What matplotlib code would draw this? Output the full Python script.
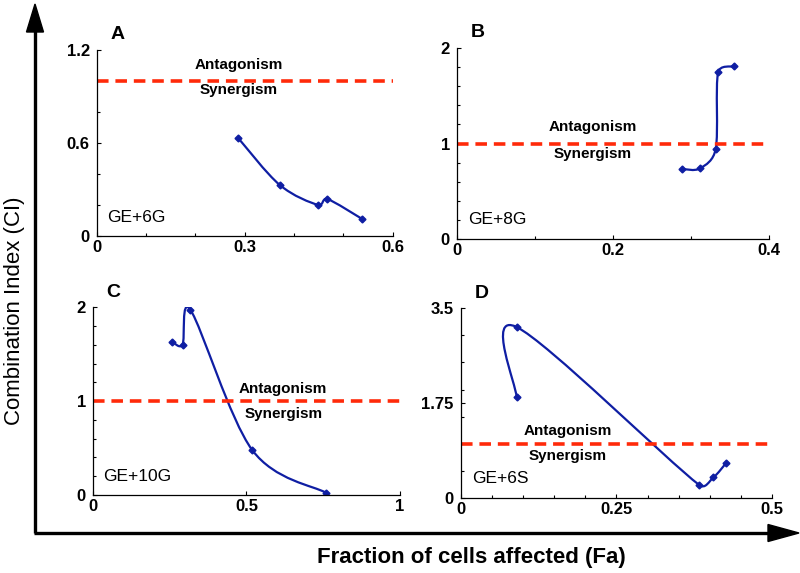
import numpy as np
import matplotlib
matplotlib.use("Agg")
import matplotlib.pyplot as plt
from matplotlib.path import Path
from matplotlib.patches import PathPatch, Polygon
from matplotlib.ticker import MultipleLocator

plt.rcParams['font.family'] = ['Liberation Sans', 'DejaVu Sans']

# --- data ---
names = ["A", "B", "C", "D"]
combos = ["GE+6G", "GE+8G", "GE+10G", "GE+6S"]

fa_A = [0.286, 0.371, 0.449, 0.467, 0.538]
ci_A = [0.634, 0.329, 0.200, 0.239, 0.110]

fa_B = [0.289, 0.312, 0.332, 0.335, 0.355]
ci_B = [0.733, 0.740, 0.946, 1.745, 1.810]

fa_C = [0.258, 0.292, 0.318, 0.519, 0.759]
ci_C = [1.63, 1.60, 1.97, 0.479, 0.025]

fa_D = [0.0895, 0.0895, 0.383, 0.406, 0.426]
ci_D = [1.866, 3.155, 0.240, 0.380, 0.640]

xmax = [0.6, 0.4, 1.0, 0.5]
ymax = [1.2, 2.0, 2.0, 3.5]
xticks = [[0, 0.3, 0.6], [0, 0.2, 0.4], [0, 0.5, 1], [0, 0.25, 0.5]]
xticklabels = [["0", "0.3", "0.6"], ["0", "0.2", "0.4"], ["0", "0.5", "1"], ["0", "0.25", "0.5"]]
yticks = [[0, 0.6, 1.2], [0, 1, 2], [0, 1, 2], [0, 1.75, 3.5]]
yticklabels = [["0", "0.6", "1.2"], ["0", "1", "2"], ["0", "1", "2"], ["0", "1.75", "3.5"]]
xminor = [0.1, 0.1, None, 0.05]
yminor = [0.2, 0.2, 0.2, 0.5]
# where the Antagonism / Synergism words sit (data units)
word_x = [0.287, 0.174, 0.62, 0.172]
ant_y = [1.10, 1.17, 1.13, 1.23]
syn_y = [0.94, 0.89, 0.86, 0.78]

series = [(fa_A, ci_A), (fa_B, ci_B), (fa_C, ci_C), (fa_D, ci_D)]

BLUE = '#0f1ea3'
RED = '#ff2a0a'


def smooth_line(ax, xs, ys):
    # Excel-style smoothed line: Catmull-Rom handles (neighbour span / 6),
    # capped at half the segment so short segments don't overshoot
    pts = ax.transData.transform(np.column_stack([xs, ys]))
    n = len(pts)
    tang = [(pts[min(i + 1, n - 1)] - pts[max(i - 1, 0)]) / 6.0 for i in range(n)]

    def cap(v, L):
        m = np.hypot(*v)
        return v if m <= 0.5 * L else v * (0.5 * L / m)

    verts = [pts[0]]
    codes = [Path.MOVETO]
    for i in range(n - 1):
        L = np.hypot(*(pts[i + 1] - pts[i]))
        verts += [pts[i] + cap(tang[i], L), pts[i + 1] - cap(tang[i + 1], L), pts[i + 1]]
        codes += [Path.CURVE4] * 3
    verts = ax.transData.inverted().transform(np.array(verts))
    ax.add_patch(PathPatch(Path(verts, codes), fill=False, edgecolor=BLUE, lw=1.6))
    ax.plot(xs, ys, ls='none', marker='D', ms=3.5, color=BLUE)


fig = plt.figure(figsize=(8, 5.73), dpi=100)

positions = [
    [0.121, 0.588, 0.370, 0.325],
    [0.571, 0.583, 0.390, 0.333],
    [0.116, 0.136, 0.384, 0.328],
    [0.576, 0.131, 0.389, 0.331],
]

for k in range(4):
    ax = fig.add_axes(positions[k])
    ax.set_xlim(0, xmax[k])
    ax.set_ylim(0, ymax[k])
    for s in ['top', 'right']:
        ax.spines[s].set_visible(False)
    for s in ['left', 'bottom']:
        ax.spines[s].set_linewidth(0.9)
    ax.set_xticks(xticks[k])
    ax.set_xticklabels(xticklabels[k], fontsize=12, fontweight='bold')
    ax.set_yticks(yticks[k])
    ax.set_yticklabels(yticklabels[k], fontsize=12, fontweight='bold')
    if xminor[k]:
        ax.xaxis.set_minor_locator(MultipleLocator(xminor[k]))
    ax.yaxis.set_minor_locator(MultipleLocator(yminor[k]))
    ax.tick_params(which='major', direction='in', length=3, width=0.8)
    ax.tick_params(which='minor', direction='in', length=2.5, width=0.8)
    ax.tick_params(axis='y', pad=5)
    ax.tick_params(axis='x', pad=3)

    ax.plot([0, xmax[k]], [1, 1], color=RED, lw=2.6, dashes=(3.2, 1.9))
    ax.text(word_x[k], ant_y[k], "Antagonism", ha='center', va='center',
            fontsize=11, fontweight='bold')
    ax.text(word_x[k], syn_y[k], "Synergism", ha='center', va='center',
            fontsize=11, fontweight='bold')

    smooth_line(ax, series[k][0], series[k][1])

    ax.text(0.035, 0.1, combos[k], transform=ax.transAxes, fontsize=12.5,
            ha='left', va='center')
    ax.text(0.045, 1.08, names[k], transform=ax.transAxes, fontsize=14,
            fontweight='bold', ha='left', va='center')

# big framing arrows in pixel coordinates
over = fig.add_axes([0, 0, 1, 1], zorder=-1)
over.set_xlim(0, 800)
over.set_ylim(573, 0)
over.axis('off')
over.plot([35, 35], [533, 30], color='black', lw=2.4, solid_capstyle='butt')
over.plot([34, 770], [533, 533], color='black', lw=2.4, solid_capstyle='butt')
over.add_patch(Polygon([[35, 4], [26.5, 32], [43.5, 32]], closed=True, color='black'))
over.add_patch(Polygon([[799, 533], [768, 524.5], [768, 541.5]], closed=True, color='black'))

fig.text(15 / 800, 1 - 311 / 573, "Combination Index (CI)", rotation=90,
         ha='center', va='center', fontsize=16)
fig.text(471 / 800, 1 - 557 / 573, "Fraction of cells affected (Fa)",
         ha='center', va='center', fontsize=16, fontweight='bold')

fig.savefig("out.png", dpi=100)
